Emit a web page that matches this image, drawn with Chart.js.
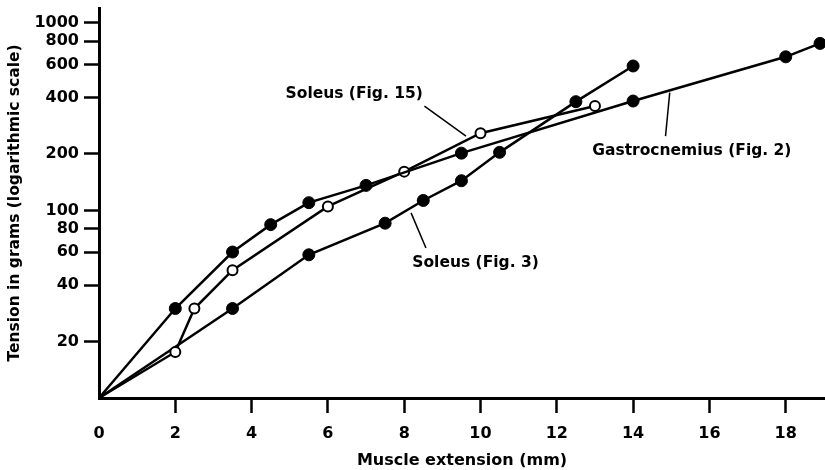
<!DOCTYPE html>
<html>
<head>
<meta charset="utf-8">
<script src="https://cdn.jsdelivr.net/npm/chart.js@4/dist/chart.umd.min.js"></script>
<style>
  html, body { margin: 0; padding: 0; background: #fff; }
  #wrap { width: 825px; height: 470px; position: relative; }
</style>
</head>
<body>
<div id="wrap"><canvas id="tension-chart"></canvas></div>
<script>
  // muscle extension (mm) and tension (g); the origin sits at 10 g on the log axis
  var gastroX = [0, 2, 3.5, 4.5, 5.5, 7, 9.5, 14, 18, 18.9];
  var gastroY = [10, 30, 60, 84, 110, 136, 202, 383, 659, 777];

  var soleus15X = [0, 2, 2.5, 3.5, 6, 8, 10, 13];
  var soleus15Y = [10, 17.6, 30, 48, 105, 161, 258, 360];

  var soleus3X = [0, 3.5, 5.5, 7.5, 8.5, 9.5, 10.5, 12.5, 14];
  var soleus3Y = [10, 30, 58, 85.5, 113, 144, 204, 380, 589];

  var xTicks = [0, 2, 4, 6, 8, 10, 12, 14, 16, 18];
  var yTicks = [20, 40, 60, 80, 100, 200, 400, 600, 800, 1000];

  var curveLabels = [
    { text: 'Soleus (Fig. 15)', x: 6.69, y: 418, x1: 8.53, y1: 360, x2: 9.62, y2: 249 },
    { text: 'Soleus (Fig. 3)', x: 9.87, y: 52.5, x1: 8.18, y1: 97, x2: 8.57, y2: 63 },
    { text: 'Gastrocnemius (Fig. 2)', x: 15.54, y: 207, x1: 14.96, y1: 425, x2: 14.85, y2: 249 }
  ];

  var font = "'DejaVu Sans', sans-serif";

  function toPoints(xs, ys) {
    return xs.map((x, i) => ({ x: x, y: ys[i] }));
  }

  function series(label, xs, ys, open) {
    return {
      label: label,
      data: toPoints(xs, ys),
      borderColor: '#000',
      borderWidth: 2.5,
      backgroundColor: open ? '#fff' : '#000',
      pointBackgroundColor: open ? '#fff' : '#000',
      pointBorderColor: '#000',
      pointBorderWidth: open ? 2 : 1,
      pointRadius: xs.map((x, i) => i === 0 ? 0 : (open ? 5 : 6)),
      tension: 0,
      clip: false
    };
  }

  var curveLabelPlugin = {
    id: 'curveLabels',
    afterDatasetsDraw(chart) {
      var ctx = chart.ctx, xs = chart.scales.x, ys = chart.scales.y;
      ctx.save();
      ctx.strokeStyle = '#000';
      ctx.lineWidth = 1.5;
      ctx.fillStyle = '#000';
      ctx.font = 'bold 15.5px ' + font;
      ctx.textAlign = 'center';
      ctx.textBaseline = 'middle';
      curveLabels.forEach((item) => {
        ctx.beginPath();
        ctx.moveTo(xs.getPixelForValue(item.x1), ys.getPixelForValue(item.y1));
        ctx.lineTo(xs.getPixelForValue(item.x2), ys.getPixelForValue(item.y2));
        ctx.stroke();
        ctx.fillText(item.text, xs.getPixelForValue(item.x), ys.getPixelForValue(item.y));
      });
      ctx.restore();
    }
  };

  var config = {
    type: 'line',
    data: {
      datasets: [
        series('Gastrocnemius (Fig. 2)', gastroX, gastroY, false),
        series('Soleus (Fig. 15)', soleus15X, soleus15Y, true),
        series('Soleus (Fig. 3)', soleus3X, soleus3Y, false)
      ]
    },
    options: {
      responsive: true,
      maintainAspectRatio: false,
      animation: false,
      layout: { autoPadding: false, padding: { top: 8, right: 0, bottom: 0, left: 0 } },
      scales: {
        x: {
          type: 'linear',
          min: 0,
          max: 19.03,
          afterBuildTicks: (scale) => { scale.ticks = xTicks.map(v => ({ value: v })); },
          afterFit: (scale) => {
            scale.height = 72;
            scale.paddingLeft = 0;
            scale.paddingRight = 0;
          },
          grid: {
            drawOnChartArea: false,
            drawTicks: true,
            tickLength: 15,
            tickWidth: 2.5,
            tickColor: (c) => c.tick && c.tick.value === 0 ? 'rgba(0,0,0,0)' : '#000'
          },
          border: { display: true, color: '#000', width: 3 },
          ticks: {
            color: '#000',
            padding: 11,
            maxRotation: 0,
            font: { family: font, size: 16, weight: 'bold' }
          },
          title: {
            display: true,
            text: 'Muscle extension (mm)',
            color: '#000',
            padding: { top: 0, bottom: 0 },
            font: { family: font, size: 16, weight: 'bold' }
          }
        },
        y: {
          type: 'logarithmic',
          min: 10,
          max: 1200,
          afterBuildTicks: (scale) => { scale.ticks = yTicks.map(v => ({ value: v })); },
          afterFit: (scale) => {
            scale.width = 99;
            scale.paddingTop = 0;
            scale.paddingBottom = 0;
          },
          grid: {
            drawOnChartArea: false,
            drawTicks: true,
            tickLength: 15,
            tickWidth: 2.5,
            tickColor: '#000'
          },
          border: { display: true, color: '#000', width: 3 },
          ticks: {
            color: '#000',
            padding: 5,
            callback: (value) => String(value),
            font: { family: font, size: 16, weight: 'bold' }
          },
          title: {
            display: true,
            text: 'Tension in grams (logarithmic scale)',
            color: '#000',
            padding: { top: 6, bottom: 0 },
            font: { family: font, size: 15.5, weight: 'bold' }
          }
        }
      },
      plugins: {
        legend: { display: false },
        tooltip: { enabled: false }
      }
    },
    plugins: [curveLabelPlugin]
  };

  new Chart(document.getElementById('tension-chart'), config);
</script>
</body>
</html>
